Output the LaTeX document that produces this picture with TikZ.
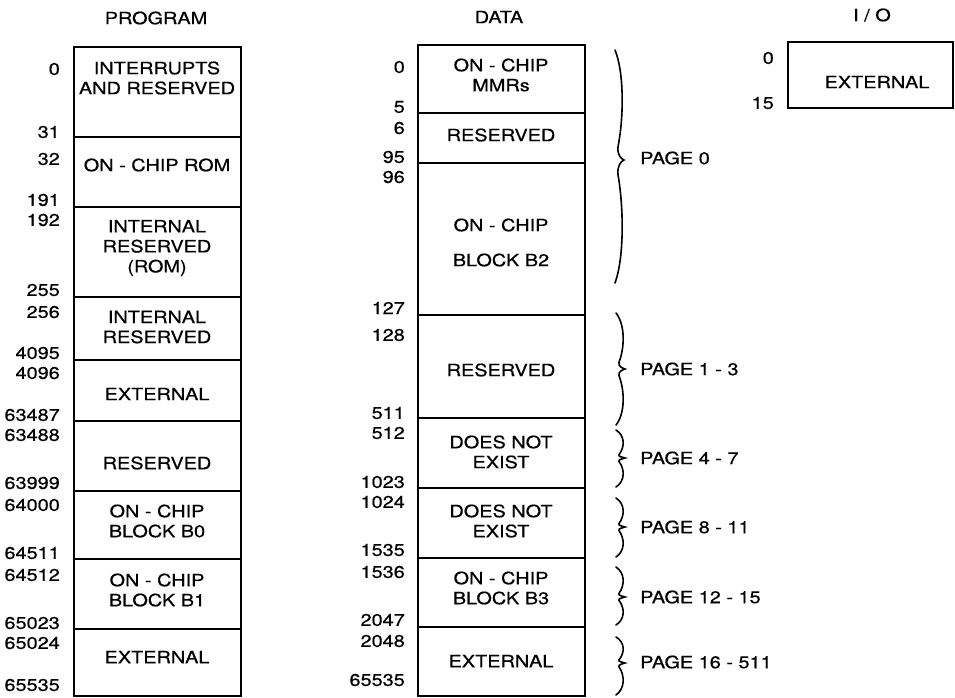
\documentclass[tikz,border=0pt]{standalone}
\usepackage{fontspec}
\setmainfont{TeX Gyre Heros}[FakeStretch=1.17,FakeBold=0.5]
\begin{document}
\begin{tikzpicture}[x=1pt,y=-1pt,
  lbl/.style={font=\fontsize{17}{20}\selectfont, inner sep=0pt},
  addr/.style={lbl, anchor=east},
  txt/.style={lbl, align=center},
  pg/.style={lbl, anchor=west},
  frame/.style={line width=2pt},
  divl/.style={line width=1.8pt},
  wbr/.style={line width=1.6pt, line cap=round}
]
\useasboundingbox (0,0) rectangle (955,697);
% wavy brace: #1 = x, #2 = top y, #3 = tip y, #4 = bottom y
\def\wavybrace#1#2#3#4{%
  \pgfmathsetmacro\hA{#3-#2}%
  \pgfmathsetmacro\hB{#4-#3}%
  \draw[wbr] (#1,#2)
    .. controls ({#1+9},{#2+0.2*\hA}) and ({#1+9},{#2+0.6*\hA}) .. ({#1+3},{#3-0.12*\hA})
    .. controls ({#1+2},{#3-0.05*\hA}) and ({#1+6},{#3-1}) .. ({#1+9},#3)
    .. controls ({#1+6},{#3+1}) and ({#1+2},{#3+0.05*\hB}) .. ({#1+3},{#3+0.12*\hB})
    .. controls ({#1+9},{#3+0.4*\hB}) and ({#1+9},{#3+0.8*\hB}) .. (#1,#4);
}

% ---------------- PROGRAM ----------------
\node[lbl] (tprog) at (156,18) {PROGRAM};
\draw[frame] (74,47) rectangle (241,695.5);
\foreach \y in {137,207,297,360,421,491,559,629}
  \draw[divl] (74,\y) -- (241,\y);

\node[addr] (p0) at (60,69) {0};
\node[addr] (p31) at (60,132) {31};
\node[addr] (p32) at (60,159) {32};
\node[addr] (p191) at (60,200) {191};
\node[addr] (p192) at (60,220) {192};
\node[addr] (p255) at (60,290) {255};
\node[addr] (p256) at (60,312) {256};
\node[addr] (p4095) at (60,353) {4095};
\node[addr] (p4096) at (60,373) {4096};
\node[addr] (p63487) at (60,415) {63487};
\node[addr] (p63488) at (60,435) {63488};
\node[addr] (p63999) at (60,483) {63999};
\node[addr] (p64000) at (60,505) {64000};
\node[addr] (p64511) at (60,553) {64511};
\node[addr] (p64512) at (60,575) {64512};
\node[addr] (p65023) at (60,623) {65023};
\node[addr] (p65024) at (60,643) {65024};
\node[addr] (p65535) at (60,685) {65535};

\node[txt] (pint) at (157,78) {INTERRUPTS\\AND RESERVED};
\node[txt] (prom) at (157,165) {ON - CHIP ROM};
\node[txt] (pirr) at (157,248) {INTERNAL\\RESERVED\\(ROM)};
\node[txt] (pir) at (157,327) {INTERNAL\\RESERVED};
\node[txt] (pext1) at (157,394) {EXTERNAL};
\node[txt] (pres) at (157,463) {RESERVED};
\node[txt] (pb0) at (157,521) {ON - CHIP\\BLOCK B0};
\node[txt] (pb1) at (157,590) {ON - CHIP\\BLOCK B1};
\node[txt] (pext2) at (157,657) {EXTERNAL};

% ---------------- DATA ----------------
\node[lbl] (tdata) at (499,17) {DATA};
\draw[frame] (418,45) rectangle (585,695.5);
\foreach \y in {113,163,315,418,488,558,627}
  \draw[divl] (418,\y) -- (585,\y);

\node[addr] (d0) at (405,67) {0};
\node[addr] (d5) at (405,107) {5};
\node[addr] (d6) at (405,128) {6};
\node[addr] (d95) at (405,157) {95};
\node[addr] (d96) at (405,177) {96};
\node[addr] (d127) at (405,308) {127};
\node[addr] (d128) at (405,335) {128};
\node[addr] (d511) at (405,413) {511};
\node[addr] (d512) at (405,433) {512};
\node[addr] (d1023) at (405,482) {1023};
\node[addr] (d1024) at (405,502) {1024};
\node[addr] (d1535) at (405,550) {1535};
\node[addr] (d1536) at (405,572) {1536};
\node[addr] (d2047) at (405,620) {2047};
\node[addr] (d2048) at (405,641) {2048};
\node[addr] (d65535) at (405,680) {65535};

\node[txt] (dmmr) at (501,75) {ON - CHIP\\MMRs};
\node[txt] (dres1) at (501,135) {RESERVED};
\node[txt] (db2a) at (501,225) {ON - CHIP};
\node[txt] (db2b) at (501,260) {BLOCK B2};
\node[txt] (dres2) at (501,370) {RESERVED};
\node[txt] (dne1) at (501,452) {DOES NOT\\EXIST};
\node[txt] (dne2) at (501,521) {DOES NOT\\EXIST};
\node[txt] (db3) at (501,588) {ON - CHIP\\BLOCK B3};
\node[txt] (dext) at (501,661) {EXTERNAL};

% braces and pages
\wavybrace{615}{50}{160}{283}
\node[pg] (pg0) at (640,158) {PAGE 0};
\wavybrace{616}{313}{369}{425}
\node[pg] (pg1) at (640,369) {PAGE 1 - 3};
\wavybrace{616}{430}{458}{487}
\node[pg] (pg4) at (640,458) {PAGE 4 - 7};
\wavybrace{616}{498}{527}{557}
\node[pg] (pg8) at (640,527) {PAGE 8 - 11};
\wavybrace{616}{567}{597}{625}
\node[pg] (pg12) at (640,597) {PAGE 12 - 15};
\wavybrace{616}{637}{663}{695}
\node[pg] (pg16) at (640,662) {PAGE 16 - 511};

% ---------------- I/O ----------------
\node[lbl] (tio) at (872,15) {I / O};
\draw[frame] (788,42) rectangle (953,108);
\node[addr] (io0) at (774,58) {0};
\node[addr] (io15) at (774,103) {15};
\node[txt] (ioext) at (877,82) {EXTERNAL};
\end{tikzpicture}
\end{document}
